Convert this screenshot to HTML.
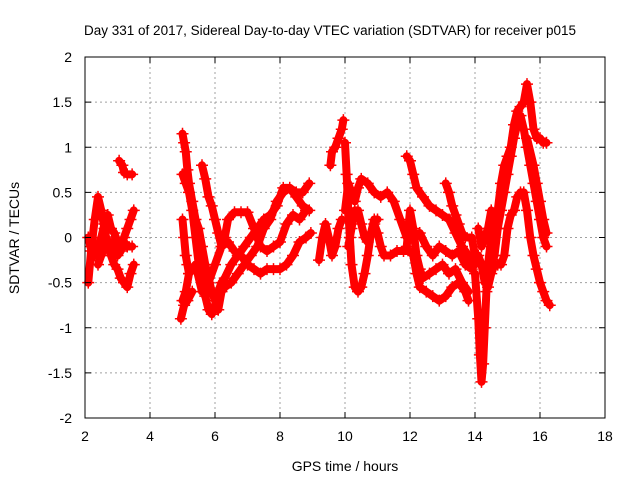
<!DOCTYPE html>
<html><head><meta charset="utf-8">
<style>
body{margin:0;background:#fff;}
svg text{font-family:"Liberation Sans",Arial,sans-serif;font-size:14px;fill:#000;}
</style></head>
<body>
<svg id="chart" width="640" height="480" viewBox="0 0 640 480" xmlns="http://www.w3.org/2000/svg">
<rect width="640" height="480" fill="#fff"/>
<text x="330" y="35" text-anchor="middle" style="font-size:13.5px">Day 331 of 2017, Sidereal Day-to-day VTEC variation (SDTVAR) for receiver p015</text>
<g id="grid"></g>
<g id="marks"></g>
<g id="axes"></g>
<text x="345" y="471" text-anchor="middle">GPS time / hours</text>
<text x="0" y="0" text-anchor="middle" transform="translate(19,238) rotate(-90)">SDTVAR / TECUs</text>
</svg>
<script>
const xTicks=[2,4,6,8,10,12,14,16,18];
const yTicks=[-2,-1.5,-1,-0.5,0,0.5,1,1.5,2];
const yTickLabels=["-2","-1.5","-1","-0.5","0","0.5","1","1.5","2"];
const trackA1=[[2.1,-0.5],[2.2,-0.1],[2.3,0.2],[2.4,0.45],[2.5,0.3],[2.6,0.1],[2.7,-0.1],[2.8,-0.2],[2.9,-0.3],[3.0,-0.35],[3.1,-0.45],[3.2,-0.5],[3.3,-0.55],[3.4,-0.4],[3.5,-0.3]];
const trackA2=[[2.1,0.0],[2.2,-0.15],[2.3,-0.2],[2.4,-0.1],[2.5,0.0],[2.6,0.15],[2.7,0.25],[2.8,0.1],[2.9,0.05],[3.0,-0.05],[3.1,-0.1],[3.2,0],[3.3,0.1],[3.4,0.2],[3.5,0.3]];
const trackA3=[[2.4,-0.3],[2.5,-0.2],[2.6,-0.1],[2.7,-0.1],[2.8,-0.05],[2.9,-0.1],[3.0,-0.2],[3.1,-0.15],[3.2,-0.05],[3.3,-0.1],[3.45,-0.1]];
const trackA4=[[3.05,0.85],[3.15,0.8],[3.2,0.72],[3.3,0.7],[3.45,0.7]];
const trackB1=[[5.0,1.15],[5.05,1.05],[5.1,0.95],[5.15,0.75],[5.2,0.6],[5.3,0.4],[5.4,0.2],[5.5,0.1],[5.6,-0.1],[5.7,-0.3],[5.8,-0.45],[5.9,-0.6],[6.0,-0.7],[6.1,-0.8],[6.2,-0.6],[6.3,-0.55],[6.5,-0.5],[6.7,-0.4],[6.9,-0.3],[7.1,-0.2],[7.3,-0.1],[7.5,0.1],[7.7,0.2],[7.9,0.4],[8.1,0.5],[8.3,0.55],[8.5,0.5],[8.7,0.5],[8.9,0.6]];
const trackB2=[[5.0,0.7],[5.1,0.6],[5.2,0.5],[5.3,0.3],[5.4,0.0],[5.5,-0.3],[5.6,-0.5],[5.7,-0.65],[5.8,-0.8],[5.9,-0.85],[6.0,-0.75],[6.1,-0.6],[6.2,-0.5],[6.3,-0.45],[6.5,-0.3],[6.7,-0.2],[6.9,-0.1],[7.1,0.0],[7.3,0.1],[7.5,0.2],[7.7,0.25],[7.9,0.35],[8.1,0.55],[8.3,0.55],[8.5,0.45],[8.7,0.35],[8.9,0.3]];
const trackB3=[[5.6,0.8],[5.7,0.65],[5.8,0.45],[5.9,0.35],[6.0,0.2],[6.1,0.05],[6.2,-0.1],[6.3,0.0],[6.4,0.2],[6.6,0.28],[6.8,0.28],[7.0,0.28],[7.2,0.1],[7.4,-0.1],[7.6,-0.15],[7.8,-0.1],[8.0,-0.05],[8.2,0.15],[8.4,0.25],[8.6,0.2],[8.8,0.3]];
const trackB4=[[5.0,-0.7],[5.1,-0.6],[5.2,-0.4],[5.4,-0.3],[5.6,-0.6],[5.8,-0.5],[6.0,-0.3],[6.2,-0.1],[6.4,-0.05],[6.6,-0.15],[6.8,-0.2],[7.0,-0.3],[7.2,-0.35],[7.4,-0.4],[7.6,-0.35],[7.8,-0.35],[8.0,-0.35],[8.2,-0.3],[8.4,-0.2],[8.6,-0.05],[8.8,0.0],[8.95,0.05]];
const trackB5=[[5.0,0.2],[5.05,0.0],[5.1,-0.2],[5.15,-0.3],[5.2,-0.4]];
const trackB6=[[4.95,-0.9],[5.05,-0.75],[5.15,-0.7],[5.3,-0.6]];
const trackC1=[[9.2,-0.25],[9.3,0.0],[9.4,0.15],[9.5,0.0],[9.6,-0.2],[9.7,-0.1],[9.8,0.1],[9.9,0.2]];
const trackC2=[[9.55,0.8],[9.6,0.95],[9.7,1.0],[9.8,1.1],[9.9,1.2],[9.95,1.3]];
const trackD1=[[10.0,1.05],[10.05,0.7],[10.1,0.3],[10.15,0],[10.2,-0.3],[10.3,-0.55],[10.4,-0.6],[10.5,-0.55],[10.6,-0.4],[10.7,-0.2],[10.8,0.05],[10.9,0.15],[11.0,0.05],[11.1,-0.1],[11.2,-0.2],[11.4,-0.2],[11.6,-0.15],[11.8,-0.15],[12.0,-0.15]];
const trackD2=[[10.0,0.3],[10.1,0.6],[10.2,0.5],[10.3,0.4],[10.4,0.55],[10.5,0.65],[10.7,0.6],[10.9,0.5],[11.1,0.45],[11.3,0.5],[11.5,0.4],[11.7,0.2],[11.9,0.0]];
const trackD3=[[10.1,-0.1],[10.2,0.1],[10.3,0.3],[10.4,0.3],[10.5,0.15],[10.6,0.0],[10.7,-0.05],[10.8,0.05],[10.9,0.2],[11.0,0.2]];
const trackD4=[[11.9,0.9],[12.0,0.85],[12.1,0.7],[12.2,0.55],[12.4,0.45],[12.6,0.35],[12.8,0.3],[13.0,0.25],[13.2,0.2],[13.4,0.05],[13.6,-0.1],[13.8,-0.2],[14.0,-0.3]];
const trackD5=[[13.1,0.6],[13.2,0.5],[13.3,0.35],[13.4,0.25],[13.5,0.15],[13.6,0.05],[13.7,0.0],[13.9,0.0],[14.0,-0.2]];
const trackD6=[[11.9,-0.1],[12.0,0.3],[12.1,0.1],[12.2,-0.2],[12.3,-0.35],[12.4,-0.45],[12.6,-0.4],[12.8,-0.35],[13.0,-0.3],[13.2,-0.4],[13.4,-0.35],[13.6,-0.5],[13.8,-0.6]];
const trackD7=[[12.1,-0.2],[12.2,-0.4],[12.3,-0.55],[12.5,-0.6],[12.7,-0.65],[12.9,-0.7],[13.1,-0.65],[13.3,-0.55],[13.5,-0.5],[13.7,-0.6],[13.8,-0.7]];
const trackD9=[[12.3,0.05],[12.5,-0.1],[12.7,-0.2],[12.9,-0.1],[13.1,-0.15],[13.3,-0.2],[13.5,-0.15],[13.7,-0.3],[13.9,-0.35]];
const trackE1=[[14.0,-0.4],[14.1,-0.9],[14.15,-1.3],[14.2,-1.6],[14.25,-1.4],[14.3,-1.0],[14.35,-0.6],[14.4,-0.3],[14.5,0.0],[14.6,0.15],[14.7,0.3],[14.8,0.6],[14.9,0.8],[15.0,0.9],[15.1,1.0],[15.2,1.25],[15.3,1.4],[15.4,1.45],[15.5,1.5],[15.6,1.7],[15.7,1.5],[15.8,1.2],[15.9,1.1],[16.0,1.1],[16.1,1.05],[16.2,1.05]];
const trackE2=[[14.1,-0.2],[14.2,-0.3],[14.3,-0.5],[14.4,-0.45],[14.5,-0.3],[14.6,-0.2],[14.7,0.1],[14.8,0.3],[14.9,0.5],[15.0,0.7],[15.1,0.9],[15.2,1.1],[15.3,1.25],[15.4,1.35],[15.5,1.2],[15.6,1.0],[15.7,0.8],[15.8,0.6],[15.9,0.4],[16.0,0.2],[16.1,0.0],[16.2,-0.1]];
const trackE3=[[14.4,-0.55],[14.5,-0.4],[14.6,-0.3],[14.7,-0.3],[14.8,-0.3],[14.9,-0.2],[15.0,0.1],[15.1,0.25],[15.2,0.3],[15.3,0.45],[15.4,0.5],[15.5,0.5],[15.6,0.3],[15.7,0.0],[15.8,-0.2],[15.9,-0.35],[16.0,-0.5],[16.1,-0.6],[16.2,-0.7],[16.3,-0.75]];
const trackE4=[[14.1,0.1],[14.2,-0.1],[14.3,0.0],[14.4,0.1],[14.5,0.3]];
const trackE5=[[15.6,1.1],[15.8,0.8],[15.9,0.6],[16.0,0.4],[16.1,0.2],[16.2,0.05]];
const tracks=[trackA1,trackA2,trackA3,trackA4,trackB1,trackB2,trackB3,trackB4,trackB5,trackB6,trackC1,trackC2,trackD1,trackD2,trackD3,trackD4,trackD5,trackD6,trackD7,trackD9,trackE1,trackE2,trackE3,trackE4,trackE5];

const X0=85,X1=605,Y0=418,Y1=57;
const xs=t=>X0+(t-2)/(18-2)*(X1-X0);
const ys=v=>Y0-(v+2)/4*(Y0-Y1);
const NS="http://www.w3.org/2000/svg";
function mk(tag,attrs,parent){const e=document.createElementNS(NS,tag);for(const k in attrs)e.setAttribute(k,attrs[k]);parent.appendChild(e);return e;}
const grid=document.getElementById('grid'),axes=document.getElementById('axes'),marks=document.getElementById('marks');
xTicks.forEach((t,i)=>{
  const x=xs(t);
  if(i>0&&i<xTicks.length-1){const g=mk('line',{x1:x,x2:x,y1:Y1,y2:Y0,stroke:'#a0a0a0','stroke-dasharray':'2,3'},grid);
  
  }
  mk('line',{x1:x,x2:x,y1:Y0,y2:Y0-6,stroke:'#000'},axes);
  mk('line',{x1:x,x2:x,y1:Y1,y2:Y1+6,stroke:'#000'},axes);
  const l=mk('text',{x:x,y:Y0+23,'text-anchor':'middle'},axes);l.textContent=String(t);
  
  
});
yTicks.forEach((v,i)=>{
  const y=ys(v);
  if(i>0&&i<yTicks.length-1){const g=mk('line',{x1:X0,x2:X1,y1:y,y2:y,stroke:'#a0a0a0','stroke-dasharray':'2,3'},grid);
  
  }
  mk('line',{x1:X0,x2:X0+6,y1:y,y2:y,stroke:'#000'},axes);
  mk('line',{x1:X1,x2:X1-6,y1:y,y2:y,stroke:'#000'},axes);
  const l=mk('text',{x:X0-13,y:y+5,'text-anchor':'end'},axes);l.textContent=yTickLabels[i];
  
  
});
const frame=mk('rect',{x:X0,y:Y1,width:X1-X0,height:Y0-Y1,fill:'none',stroke:'#000'},axes);


tracks.forEach(tr=>{
  const pl=mk('polyline',{points:tr.map(p=>xs(p[0])+','+ys(p[1])).join(' '),fill:'none',stroke:'#ff0000','stroke-width':8,'stroke-linejoin':'round','stroke-linecap':'round'},marks);
  
  
  tr.forEach(p=>{
    const x=xs(p[0]),y=ys(p[1]);
    const m=mk('path',{d:`M${x-6},${y}h12M${x},${y-6}v12`,stroke:'#ff0000','stroke-width':1.5},marks);
    
    
  });
});
</script>
</body></html>
